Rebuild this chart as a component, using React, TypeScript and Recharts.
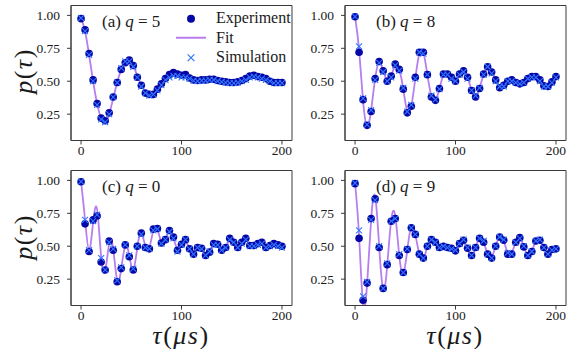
import React from 'react';
import { ComposedChart, Line, Scatter, XAxis, YAxis, ReferenceArea } from 'recharts';

const TAU = [
  0, 4, 8, 12, 16, 20, 24, 28, 32, 36, 40, 44, 48, 52, 56, 60, 64, 68, 72, 76, 80, 84, 88, 92, 96, 100,
  104, 108, 112, 116, 120, 124, 128, 132, 136, 140, 144, 148, 152, 156, 160, 164, 168, 172, 176, 180, 184, 188, 192, 196, 200,
];

// (a) q = 5
const EXP_A = [
  0.975, 0.89, 0.71, 0.51, 0.33, 0.22, 0.2, 0.26, 0.38, 0.49,
  0.59, 0.64, 0.66, 0.62, 0.53, 0.47, 0.41, 0.4, 0.4, 0.44,
  0.48, 0.52, 0.55, 0.565, 0.555, 0.545, 0.55, 0.525, 0.51, 0.505,
  0.51, 0.51, 0.515, 0.515, 0.505, 0.5, 0.495, 0.49, 0.49, 0.495,
  0.505, 0.52, 0.54, 0.545, 0.535, 0.53, 0.52, 0.5, 0.49, 0.49,
  0.49,
];
const FIT_A = [
  0.98, 0.88, 0.7, 0.5, 0.33, 0.22, 0.19, 0.25, 0.37, 0.49,
  0.59, 0.645, 0.655, 0.62, 0.54, 0.47, 0.42, 0.4, 0.405, 0.44,
  0.48, 0.515, 0.54, 0.55, 0.55, 0.54, 0.535, 0.525, 0.515, 0.51,
  0.505, 0.505, 0.505, 0.505, 0.5, 0.5, 0.495, 0.495, 0.495, 0.5,
  0.505, 0.515, 0.525, 0.53, 0.53, 0.525, 0.515, 0.505, 0.495, 0.49,
  0.49,
];
const SIM_A = [
  0.98, 0.88, 0.7, 0.5, 0.32, 0.21, 0.19, 0.25, 0.38, 0.49,
  0.6, 0.65, 0.65, 0.61, 0.53, 0.46, 0.41, 0.39, 0.4, 0.43,
  0.47, 0.51, 0.53, 0.54, 0.54, 0.53, 0.53, 0.52, 0.505, 0.5,
  0.505, 0.505, 0.51, 0.51, 0.5, 0.495, 0.49, 0.485, 0.485, 0.49,
  0.5, 0.51, 0.53, 0.535, 0.53, 0.52, 0.51, 0.5, 0.485, 0.485,
  0.485,
];

// (b) q = 8
const EXP_B = [
  0.99, 0.72, 0.36, 0.165, 0.27, 0.52, 0.65, 0.58, 0.5, 0.54,
  0.63, 0.59, 0.44, 0.26, 0.31, 0.53, 0.72, 0.72, 0.55, 0.38,
  0.355, 0.445, 0.555, 0.555, 0.53, 0.5, 0.555, 0.58, 0.53, 0.43,
  0.38, 0.445, 0.555, 0.61, 0.57, 0.51, 0.45, 0.47, 0.5, 0.51,
  0.49, 0.48, 0.49, 0.52, 0.535, 0.535, 0.51, 0.465, 0.46, 0.495,
  0.535,
];
const FIT_B = [
  0.99, 0.74, 0.35, 0.16, 0.28, 0.52, 0.64, 0.58, 0.51, 0.54,
  0.62, 0.59, 0.44, 0.27, 0.31, 0.52, 0.71, 0.72, 0.55, 0.39,
  0.36, 0.44, 0.55, 0.56, 0.53, 0.51, 0.55, 0.57, 0.53, 0.43,
  0.39, 0.45, 0.55, 0.6, 0.57, 0.51, 0.46, 0.47, 0.5, 0.51,
  0.49, 0.48, 0.49, 0.515, 0.53, 0.53, 0.51, 0.47, 0.46, 0.49,
  0.53,
];
const SIM_B = [
  0.99, 0.765, 0.37, 0.17, 0.28, 0.51, 0.64, 0.57, 0.5, 0.53,
  0.62, 0.58, 0.45, 0.27, 0.32, 0.52, 0.72, 0.71, 0.55, 0.39,
  0.36, 0.44, 0.55, 0.55, 0.52, 0.5, 0.55, 0.57, 0.52, 0.43,
  0.39, 0.45, 0.55, 0.61, 0.56, 0.5, 0.46, 0.46, 0.5, 0.5,
  0.49, 0.48, 0.49, 0.52, 0.53, 0.53, 0.5, 0.46, 0.46, 0.49,
  0.53,
];

// (c) q = 0
const EXP_C = [
  0.99, 0.67, 0.46, 0.7, 0.73, 0.38, 0.32, 0.54, 0.47, 0.23,
  0.33, 0.51, 0.42, 0.32, 0.5, 0.6, 0.49, 0.48, 0.63, 0.635,
  0.525, 0.55, 0.62, 0.57, 0.47, 0.515, 0.55, 0.48, 0.44, 0.49,
  0.485, 0.43, 0.455, 0.52, 0.515, 0.47, 0.49, 0.56, 0.53, 0.49,
  0.53, 0.56, 0.505, 0.505, 0.52, 0.53, 0.49, 0.505, 0.52, 0.51,
  0.5,
];
const FIT_C = [
  0.99, 0.7, 0.47, 0.68, 0.78, 0.42, 0.31, 0.52, 0.48, 0.24,
  0.33, 0.5, 0.43, 0.32, 0.49, 0.6, 0.5, 0.49, 0.62, 0.63,
  0.53, 0.55, 0.61, 0.56, 0.48, 0.51, 0.54, 0.48, 0.45, 0.49,
  0.48, 0.44, 0.46, 0.51, 0.51, 0.48, 0.49, 0.55, 0.53, 0.49,
  0.52, 0.55, 0.51, 0.5, 0.52, 0.52, 0.5, 0.5, 0.51, 0.51,
  0.5,
];
const SIM_C = [
  0.99, 0.7, 0.47, 0.69, 0.74, 0.41, 0.32, 0.53, 0.48, 0.24,
  0.34, 0.51, 0.43, 0.33, 0.5, 0.59, 0.49, 0.48, 0.62, 0.63,
  0.52, 0.55, 0.61, 0.56, 0.46, 0.51, 0.55, 0.48, 0.44, 0.49,
  0.48, 0.43, 0.46, 0.51, 0.51, 0.47, 0.49, 0.55, 0.53, 0.49,
  0.52, 0.55, 0.5, 0.5, 0.51, 0.52, 0.49, 0.5, 0.51, 0.5,
  0.49,
];

// (d) q = 9
const EXP_D = [
  0.975, 0.56, 0.09, 0.22, 0.71, 0.86, 0.49, 0.18, 0.36, 0.69,
  0.71, 0.43, 0.3, 0.475, 0.64, 0.59, 0.44, 0.41, 0.5, 0.55,
  0.53, 0.49, 0.5, 0.49, 0.485, 0.465, 0.52, 0.545, 0.485, 0.43,
  0.49, 0.56, 0.53, 0.44, 0.41, 0.5, 0.57, 0.545, 0.44, 0.44,
  0.53, 0.565, 0.495, 0.43, 0.46, 0.54, 0.545, 0.49, 0.44, 0.475,
  0.48,
];
const FIT_D = [
  0.98, 0.58, 0.06, 0.21, 0.7, 0.88, 0.5, 0.17, 0.35, 0.7,
  0.73, 0.43, 0.29, 0.47, 0.65, 0.59, 0.44, 0.4, 0.5, 0.55,
  0.53, 0.5, 0.5, 0.49, 0.48, 0.47, 0.52, 0.54, 0.48, 0.43,
  0.49, 0.56, 0.53, 0.44, 0.42, 0.5, 0.57, 0.54, 0.45, 0.45,
  0.53, 0.56, 0.5, 0.43, 0.46, 0.54, 0.54, 0.49, 0.44, 0.47,
  0.48,
];
const SIM_D = [
  0.98, 0.62, 0.12, 0.23, 0.7, 0.85, 0.5, 0.18, 0.37, 0.69,
  0.71, 0.44, 0.3, 0.48, 0.64, 0.59, 0.44, 0.41, 0.5, 0.55,
  0.53, 0.49, 0.5, 0.49, 0.48, 0.47, 0.52, 0.55, 0.49, 0.43,
  0.49, 0.56, 0.54, 0.44, 0.41, 0.5, 0.57, 0.55, 0.45, 0.44,
  0.53, 0.56, 0.5, 0.43, 0.46, 0.54, 0.55, 0.49, 0.44, 0.47,
  0.48,
];

const X_TICKS = [0, 100, 200];
const Y_TICKS = [0.25, 0.5, 0.75, 1.0];
const X_DOMAIN: [number, number] = [-10, 210];
const Y_DOMAIN: [number, number] = [0.05, 1.075];

const EXP_COLOR = '#0606a6';
const FIT_COLOR = '#b77ef0';
const SIM_COLOR = '#3377ff';
const AXIS_COLOR = '#3a3a3a';
const SERIF = "'Liberation Serif', 'DejaVu Serif', serif";

const CHART_W = 300;
const CHART_H = 160.5;

const XMark = (props: any) => {
  const { cx, cy } = props;
  if (cx == null || cy == null) return null;
  const s = 3;
  return (
    <path
      d={`M${cx - s},${cy - s}L${cx + s},${cy + s}M${cx - s},${cy + s}L${cx + s},${cy - s}`}
      stroke={SIM_COLOR}
      strokeWidth={1.1}
      fill="none"
    />
  );
};

const Dot = (props: any) => {
  const { cx, cy } = props;
  if (cx == null || cy == null) return null;
  return <circle cx={cx} cy={cy} r={3.8} fill={EXP_COLOR} />;
};

interface PanelProps {
  left: number;
  top: number;
  letter: string;
  q: number;
  exp: number[];
  fit: number[];
  sim: number[];
  legend?: boolean;
}

const Panel: React.FC<PanelProps> = ({ left, top, letter, q, exp, fit, sim, legend }) => {
  const rows = TAU.map((t, i) => ({ t, exp: exp[i], fit: fit[i], sim: sim[i] }));
  const tickStyle = { fontFamily: SERIF, fontSize: 13.5, fill: '#1a1a1a' };
  return (
    <div style={{ position: 'absolute', left, top, width: CHART_W, height: CHART_H, fontFamily: SERIF }}>
      <ComposedChart width={CHART_W} height={CHART_H} data={rows} margin={{ top: 5.5, right: 8, bottom: 0, left: 0 }}>
        <XAxis
          dataKey="t"
          type="number"
          domain={X_DOMAIN}
          ticks={X_TICKS}
          allowDataOverflow
          height={20}
          tickSize={4}
          tickMargin={1}
          stroke={AXIS_COLOR}
          tick={tickStyle}
        />
        <YAxis
          type="number"
          domain={Y_DOMAIN}
          ticks={Y_TICKS}
          allowDataOverflow
          width={71}
          tickSize={4}
          tickMargin={7}
          stroke={AXIS_COLOR}
          tick={tickStyle}
          tickFormatter={(v: number) => v.toFixed(2)}
        />
        <ReferenceArea x1={X_DOMAIN[0]} x2={X_DOMAIN[1]} y1={Y_DOMAIN[0]} y2={Y_DOMAIN[1]} fill="none" stroke={AXIS_COLOR} strokeWidth={1} />
        <Scatter dataKey="exp" shape={Dot} isAnimationActive={false} />
        <Line dataKey="fit" type="natural" stroke={FIT_COLOR} strokeWidth={1.8} dot={false} activeDot={false} isAnimationActive={false} />
        <Scatter dataKey="sim" shape={XMark} isAnimationActive={false} />
      </ComposedChart>
      <div
        style={{
          position: 'absolute',
          left: 102,
          top: 12,
          fontSize: 17,
          lineHeight: '20px',
          whiteSpace: 'nowrap',
          color: '#1a1a1a',
        }}
      >
        ({letter}) <i>q</i> = {q}
      </div>
      {legend ? (
        <div style={{ position: 'absolute', left: 175, top: 8.5, fontSize: 16, color: '#1a1a1a' }}>
          {[
            { name: 'Experiment', kind: 'dot' },
            { name: 'Fit', kind: 'line' },
            { name: 'Simulation', kind: 'x' },
          ].map((item) => (
            <div key={item.name} style={{ display: 'flex', alignItems: 'center', height: 19.5, whiteSpace: 'nowrap' }}>
              <svg width={32} height={19.5} style={{ marginRight: 9 }}>
                {item.kind === 'dot' && <circle cx={16} cy={9.75} r={4} fill={EXP_COLOR} />}
                {item.kind === 'line' && <line x1={1} x2={31} y1={9.75} y2={9.75} stroke={FIT_COLOR} strokeWidth={2} />}
                {item.kind === 'x' && (
                  <path d="M12.6,6.35L19.4,13.15M12.6,13.15L19.4,6.35" stroke={SIM_COLOR} strokeWidth={1.2} fill="none" />
                )}
              </svg>
              <span>{item.name}</span>
            </div>
          ))}
        </div>
      ) : null}
    </div>
  );
};

const mathLabel: React.CSSProperties = {
  position: 'absolute',
  fontFamily: SERIF,
  fontSize: 26,
  letterSpacing: 1.5,
  whiteSpace: 'nowrap',
  color: '#1a1a1a',
  lineHeight: '18px',
};

const YLabel = ({ cy }: { cy: number }) => (
  <div style={{ ...mathLabel, left: 24, top: cy, transform: 'translate(-50%, -50%) rotate(-90deg)' }}>
    <i>p</i>(<i>τ</i>)
  </div>
);

const XLabel = ({ cx }: { cx: number }) => (
  <div style={{ ...mathLabel, left: cx, top: 336, transform: 'translate(-50%, -50%)' }}>
    <i>τ</i>(<i>μs</i>)
  </div>
);

export default function App() {
  return (
    <div style={{ position: 'absolute', left: 0, top: 0, width: 574, height: 349, background: '#fff', overflow: 'hidden' }}>
      <Panel left={0} top={0} letter="a" q={5} exp={EXP_A} fit={FIT_A} sim={SIM_A} legend />
      <Panel left={274} top={0} letter="b" q={8} exp={EXP_B} fit={FIT_B} sim={SIM_B} />
      <Panel left={0} top={164.5} letter="c" q={0} exp={EXP_C} fit={FIT_C} sim={SIM_C} />
      <Panel left={274} top={164.5} letter="d" q={9} exp={EXP_D} fit={FIT_D} sim={SIM_D} />
      <YLabel cy={71} />
      <YLabel cy={237} />
      <XLabel cx={181} />
      <XLabel cx={455} />
    </div>
  );
}
